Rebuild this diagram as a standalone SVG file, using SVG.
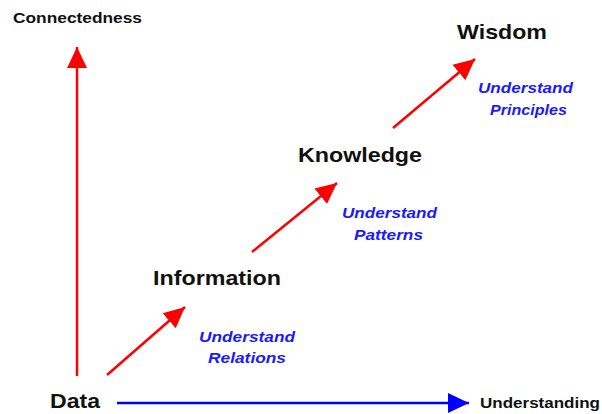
<svg xmlns="http://www.w3.org/2000/svg" width="602" height="414" viewBox="0 0 602 414">
<style>
.big{font-family:"Liberation Sans",Arial,sans-serif;font-weight:bold;font-size:21px;fill:#111}
.axis{font-family:"Liberation Sans",Arial,sans-serif;font-weight:bold;font-size:15px;fill:#111}
.note{font-family:"Liberation Sans",Arial,sans-serif;font-weight:bold;font-style:italic;font-size:15.5px;fill:#1a1aff;text-anchor:middle}
.red{stroke:#ff0000;stroke-width:2.5;fill:none}
.blue{stroke:#0000ff;stroke-width:2.5;fill:none}
</style>
<defs>
<marker id="ar" markerUnits="userSpaceOnUse" markerWidth="22" markerHeight="22" refX="21" refY="10" orient="auto" viewBox="0 0 22 20">
<path d="M0,0 L21,10 L0,20 z" fill="#ff0000"/>
</marker>
<marker id="ab" markerUnits="userSpaceOnUse" markerWidth="22" markerHeight="22" refX="21" refY="10" orient="auto" viewBox="0 0 22 20">
<path d="M0,0 L21,10 L0,20 z" fill="#0000ff"/>
</marker>
</defs>
<g id="connectors">
<line class="red" x1="77" y1="376" x2="77" y2="47" marker-end="url(#ar)"/>
<line class="blue" x1="117" y1="403" x2="469" y2="403" marker-end="url(#ab)"/>
<line class="red" x1="107" y1="375" x2="185" y2="307" marker-end="url(#ar)"/>
<line class="red" x1="252" y1="252" x2="337" y2="183" marker-end="url(#ar)"/>
<line class="red" x1="393" y1="128" x2="475" y2="59" marker-end="url(#ar)"/>
</g>
<g id="connectedness"><text class="axis" x="13" y="23" textLength="129" lengthAdjust="spacingAndGlyphs">Connectedness</text></g>
<g id="understanding"><text class="axis" x="480" y="408" textLength="120" lengthAdjust="spacingAndGlyphs">Understanding</text></g>
<g id="data"><text class="big" x="50" y="408" textLength="50" lengthAdjust="spacingAndGlyphs">Data</text></g>
<g id="information"><text class="big" x="153" y="285" textLength="128" lengthAdjust="spacingAndGlyphs">Information</text></g>
<g id="knowledge"><text class="big" x="298" y="162" textLength="124" lengthAdjust="spacingAndGlyphs">Knowledge</text></g>
<g id="wisdom"><text class="big" x="457" y="39" textLength="90" lengthAdjust="spacingAndGlyphs">Wisdom</text></g>
<g id="relations">
<text class="note" x="247" y="342" textLength="96" lengthAdjust="spacingAndGlyphs">Understand</text>
<text class="note" x="247" y="363" textLength="78" lengthAdjust="spacingAndGlyphs">Relations</text>
</g>
<g id="patterns">
<text class="note" x="389.5" y="218" textLength="95" lengthAdjust="spacingAndGlyphs">Understand</text>
<text class="note" x="388.5" y="240" textLength="69" lengthAdjust="spacingAndGlyphs">Patterns</text>
</g>
<g id="principles">
<text class="note" x="525.5" y="93" textLength="95" lengthAdjust="spacingAndGlyphs">Understand</text>
<text class="note" x="528.5" y="115" textLength="77" lengthAdjust="spacingAndGlyphs">Principles</text>
</g>
</svg>
